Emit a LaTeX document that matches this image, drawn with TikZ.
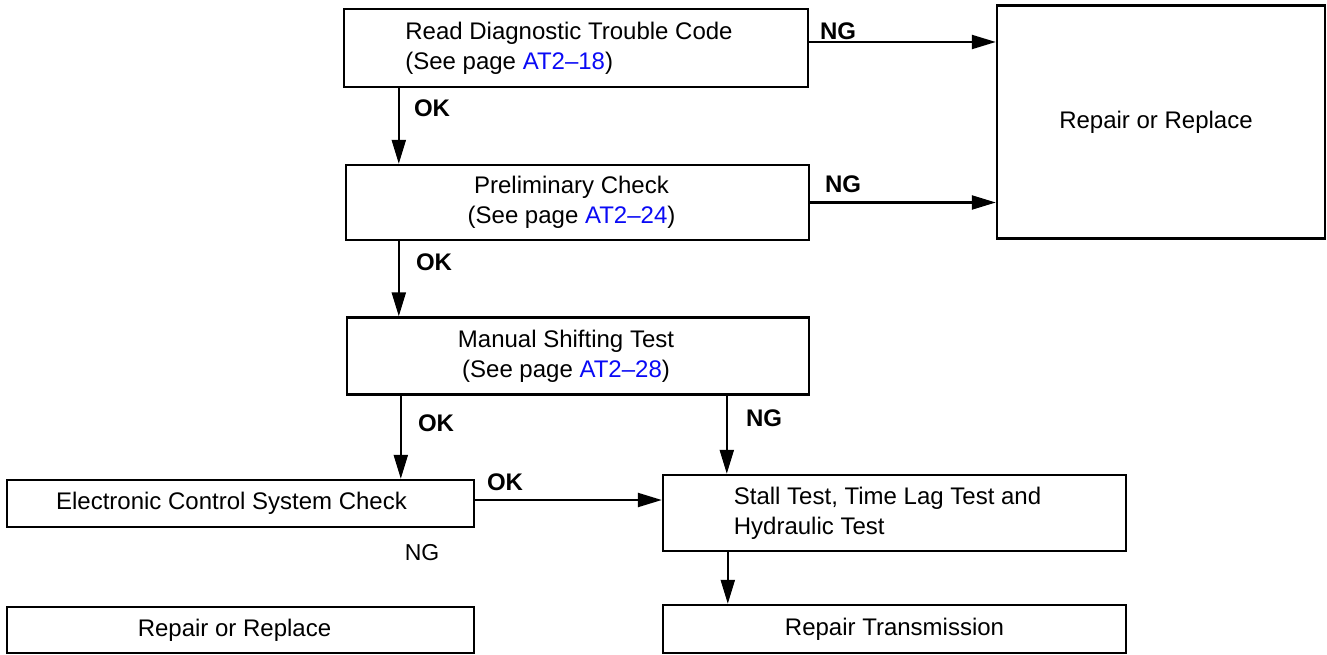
\documentclass[tikz,border=0pt]{standalone}
\usepackage{fontspec}
\setmainfont{Liberation Sans}
\usepackage{tikz}
\usetikzlibrary{calc}
\usetikzlibrary{arrows.meta}
\usetikzlibrary{positioning}
\definecolor{pageblue}{RGB}{10,10,245}
\newcommand{\pg}[1]{\textcolor{pageblue}{#1}}

\begin{document}
\begin{tikzpicture}[x=1pt,y=-1pt]
  % some styles
  \tikzset{
    stepbox/.style={
      rectangle,
      draw=black,
      line width=2.4pt,
      inner sep=0pt,
      font=\fontsize{24}{30}\selectfont
    }
  }
 \tikzset{flow/.style={line width=2.2pt,-{Triangle[length=24pt,width=14pt]}}}
 \tikzset{verdict/.style={font=\fontsize{24}{26}\selectfont\bfseries,inner sep=0pt}}

\useasboundingbox (0,0) rectangle (1327,655);

% boxes
\node[stepbox,minimum width=464,minimum height=78,align=left] (rdtc) at (576,48)
   {Read Diagnostic Trouble Code\hspace*{14pt}\\(See page \pg{AT2--18})};
\node[stepbox,minimum width=463,minimum height=75,align=center] (prelim) at (577.5,202.5)
   {Preliminary Check\hspace*{12pt}\\(See page \pg{AT2--24})\hspace*{12pt}};
\node[stepbox,minimum width=462,minimum height=77,align=center] (manual) at (578,356)
   {Manual Shifting Test\hspace*{24pt}\\(See page \pg{AT2--28})\hspace*{24pt}};
\node[stepbox,minimum width=328,minimum height=233] (fixA) at (1161,122) {Repair or Replace\hspace*{10pt}};
\node[stepbox,minimum width=467,minimum height=47] (ecs) at (240.5,503.5) {Electronic Control System Check\hspace*{18pt}};
\node[stepbox,minimum width=463,minimum height=76,align=left] (stall) at (894.5,513)
   {Stall Test, Time Lag Test and\hspace*{14pt}\\Hydraulic Test};
\node[stepbox,minimum width=467,minimum height=46] (fixB) at (240.5,630) {Repair or Replace\hspace*{12pt}};
\node[stepbox,minimum width=463,minimum height=48] (trans) at (894.5,629) {Repair Transmission};

% connectors
\draw[flow] ([xshift=56pt]rdtc.south west) -- ([xshift=56pt]rdtc.south west |- prelim.north);
\draw[flow] ([yshift=6pt]rdtc.east) -- ([yshift=6pt]rdtc.east -| fixA.west);
\draw[flow] (prelim.east) -- (prelim.east -| fixA.west);
\draw[flow] ([xshift=54pt]prelim.south west) -- ([xshift=54pt]prelim.south west |- manual.north);
\draw[flow] ([xshift=55pt]manual.south west) -- ([xshift=55pt]manual.south west |- ecs.north);
\draw[flow] ([xshift=381pt]manual.south west) -- ([xshift=381pt]manual.south west |- stall.north);
\draw[flow] ([yshift=3.5pt]ecs.east) -- ([yshift=3.5pt]ecs.east -| stall.west);
\draw[flow] ([xshift=66pt]stall.south west) -- ([xshift=66pt]stall.south west |- trans.north);

% verdicts
\node[verdict] (ok1) at (432,108) {OK};
\node[verdict] (ng1) at (838,31) {NG};
\node[verdict] (ng2) at (843,184) {NG};
\node[verdict] (ok2) at (434,262) {OK};
\node[verdict] (ok3) at (436,423) {OK};
\node[verdict] (ng3) at (764,418) {NG};
\node[verdict] (ok4) at (505,482) {OK};
\node[font=\fontsize{23}{26}\selectfont,inner sep=0pt] (ng4) at (422,553) {NG};

\end{tikzpicture}
\end{document}
